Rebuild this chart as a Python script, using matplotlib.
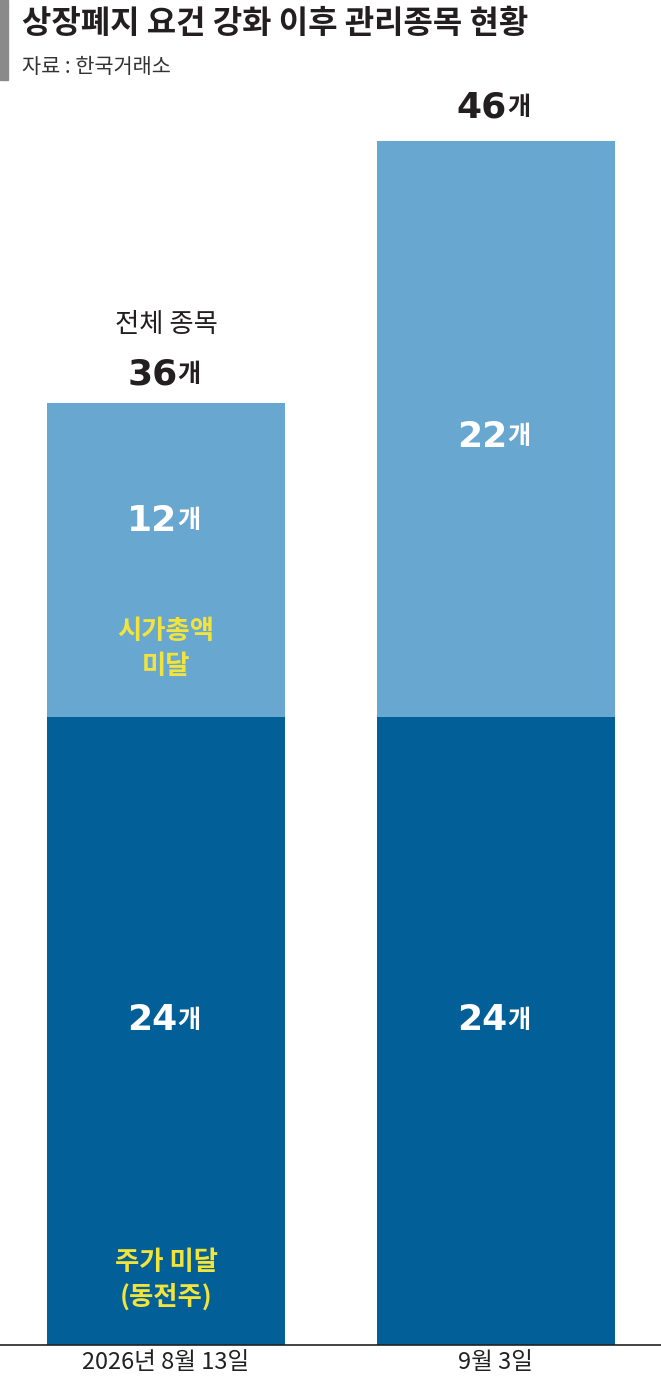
import matplotlib
matplotlib.use("Agg")
import matplotlib.pyplot as plt
from matplotlib.patches import Rectangle

plt.rcParams['font.family'] = ['Noto Sans CJK KR', 'DejaVu Sans']

dates = ["2026년 8월 13일", "9월 3일"]
price_below = [24, 24]
cap_below = [12, 22]
totals = [36, 46]

dark = "#035f98"
light = "#68a8d0"
yellow = "#f2e43a"

fig = plt.figure(figsize=(6.61, 13.94), dpi=100)
ax = fig.add_axes([0, 1 - 1345/1394, 1, 1345/1394])
x = [0, 1]
ax.bar(x, price_below, width=0.722, color=dark)
ax.bar(x, cap_below, bottom=price_below, width=0.722, color=light)
ax.set_xlim(-0.504, 1.502)
ax.set_ylim(0, 1345/26.17)
for s in ['top', 'right', 'left']:
    ax.spines[s].set_visible(False)
ax.spines['bottom'].set_color('#222222')
ax.spines['bottom'].set_linewidth(1.2)
ax.set_yticks([])
ax.set_xticks(x)
ax.set_xticklabels(dates, fontsize=17, color='#222222')
ax.tick_params(axis='x', length=0, pad=4)

def num(xc, y, n, color, size=26):
    ax.text(xc + 0.035, y, str(n), ha='right', va='center', fontsize=size,
            fontweight='bold', color=color,
            family=['Liberation Sans Narrow', 'DejaVu Sans'])
    ax.text(xc + 0.035, y, "개", ha='left', va='center', fontsize=size*0.7,
            color=color, fontweight='bold')

for i in range(2):
    num(x[i], price_below[i]/2 + 0.4, price_below[i], 'white')
num(0, 31.5, cap_below[0], 'white')
num(1, 34.7, cap_below[1], 'white')
num(0, 37.1, totals[0], '#231f20')
num(1, 47.3, totals[1], '#231f20')
ax.text(0, 39.0, "전체 종목", ha='center', va='center', fontsize=19,
        color='#231f20', fontweight='medium')
ax.text(0, 26.6, "시가총액\n미달", ha='center', va='center', fontsize=19,
        color=yellow, fontweight='bold', linespacing=1.35)
ax.text(0, 2.5, "주가 미달\n(동전주)", ha='center', va='center', fontsize=19,
        color=yellow, fontweight='bold', linespacing=1.35)

fig.patches.append(Rectangle((0, 1-80/1394), 8/661, 80/1394, transform=fig.transFigure,
                             color='#8a8a8a'))
fig.text(22/661, 1-24/1394, "상장폐지 요건 강화 이후 관리종목 현황", fontsize=23,
         fontweight='bold', va='center', ha='left', color='#231f20')
fig.text(22/661, 1-67/1394, "자료 : 한국거래소", fontsize=15, va='center', ha='left',
         color='#333333')

fig.savefig("out.png", dpi=100)
